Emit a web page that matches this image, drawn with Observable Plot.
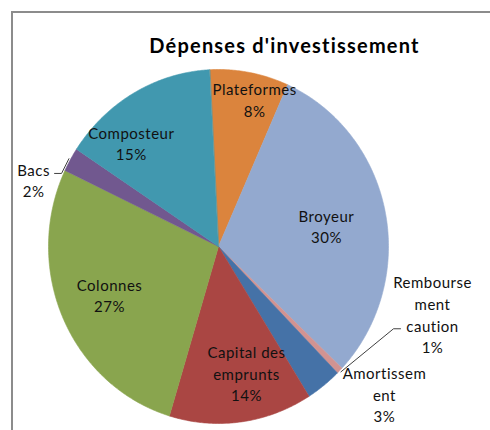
<!DOCTYPE html>
<html>
<head>
<meta charset="utf-8">
<script src="https://cdn.jsdelivr.net/npm/d3@7"></script>
<script src="https://cdn.jsdelivr.net/npm/@observablehq/plot@0.6"></script>
<style>
  body { margin: 0; background: #fff; }
  #wrap { position: relative; width: 490px; height: 430px; overflow: hidden; background: #fff; }
  #wrap svg { position: absolute; left: 0; top: 0; letter-spacing: 0.5px; }
  #frame { position: absolute; left: 11px; top: 11px; width: 700px; height: 700px; border: 2px solid #8c8c8c; box-sizing: border-box; pointer-events: none; }
  #title { position: absolute; left: 284.5px; top: 33px; transform: translateX(-50%); white-space: nowrap;
           font: bold 20px Lato, "Open Sans", sans-serif; line-height: 24px; color: #000; letter-spacing: 1.2px; }
</style>
</head>
<body>
<div id="wrap">
  <div id="frame"></div>
  <div id="title">Dépenses d'investissement</div>
</div>
<script>
// ---- data ----
const categories = ["Plateformes", "Broyeur", "Remboursement caution", "Amortissement",
                    "Capital des emprunts", "Colonnes", "Bacs", "Composteur"];
const labelTexts = ["Plateformes", "Broyeur", "Rembourse\nment\ncaution", "Amortissem\nent",
                    "Capital des\nemprunts", "Colonnes", "Bacs", "Composteur"];
const shares = [7.5, 30.4, 0.6, 3.4, 13.6, 27.4, 2.2, 14.9];
const colors = ["#DB843D", "#93A9CF", "#D19392", "#4572A7", "#AA4643", "#89A54E", "#71588F", "#4198AF"];
const title = "Dépenses d'investissement";

// ---- layout ----
const firstSliceAngle = -3;          // degrees, clockwise from 12 o'clock
const cx = 218, cy = 246, rx = 170, ry = 177;
// label placement (polar, angle in degrees, radius as a fraction of pie radius)
const labelAngles = [14.3, 79.4, 106.8, 130.4, 167, 247.1, 289.2, 318.9];
const labelRadii  = [0.86, 0.646, 1.315, 1.282, 0.731, 0.696, 1.152, 0.78];
// leader lines: pixel offsets from label centre (elbow, end)
const leaders = {
  "Remboursement caution": [[-39, 15], [-32, 15]],
  "Bacs": [[28, -6], [21, -6]]
};

document.getElementById("title").textContent = title;

const total = d3.sum(shares);
const rad = (deg) => deg * Math.PI / 180;

// slice polygons
const slicePoints = [];
const mids = [];
let a = firstSliceAngle;
categories.forEach((name, i) => {
  const a0 = a, a1 = a + shares[i] / total * 360;
  mids.push((a0 + a1) / 2);
  slicePoints.push({name, u: 0, v: 0});
  const n = Math.max(2, Math.ceil(a1 - a0) * 2);
  for (let k = 0; k <= n; k++) {
    const t = rad(a0 + (a1 - a0) * k / n);
    slicePoints.push({name, u: Math.sin(t), v: Math.cos(t)});
  }
  a = a1;
});

// labels
const labels = categories.map((name, i) => {
  const t = rad(labelAngles[i]);
  return {
    name,
    u: labelRadii[i] * Math.sin(t),
    v: labelRadii[i] * Math.cos(t),
    text: labelTexts[i] + "\n" + Math.round(shares[i]) + "%"
  };
});

// leader lines
const leaderPoints = [];
Object.entries(leaders).forEach(([name, offs]) => {
  const i = categories.indexOf(name);
  const t = rad(mids[i]);
  leaderPoints.push({name, u: Math.sin(t) * 1.01, v: Math.cos(t) * 1.01});
  offs.forEach(([dx, dy]) => {
    leaderPoints.push({name, u: labels[i].u + dx / rx, v: labels[i].v - dy / ry});
  });
});

const chart = Plot.plot({
  width: 490,
  height: 430,
  margin: 0,
  style: {background: "transparent", fontFamily: "Lato, 'Open Sans', sans-serif"},
  x: {domain: [-1, 1], range: [cx - rx, cx + rx], axis: null},
  y: {domain: [-1, 1], range: [cy + ry, cy - ry], axis: null},
  color: {domain: categories, range: colors},
  marks: [
    Plot.line(slicePoints, {x: "u", y: "v", z: "name", fill: "name", stroke: "name",
                            strokeWidth: 0.6, curve: "linear-closed"}),
    Plot.line(leaderPoints, {x: "u", y: "v", z: "name", stroke: "#404040", strokeWidth: 1}),
    Plot.text(labels, {x: "u", y: "v", text: "text", fontSize: 15, lineHeight: 1.45,
                       fill: "#111", fontFamily: "Lato, 'Open Sans', sans-serif"})
  ]
});

document.getElementById("wrap").insertBefore(chart, document.getElementById("frame"));
</script>
</body>
</html>
